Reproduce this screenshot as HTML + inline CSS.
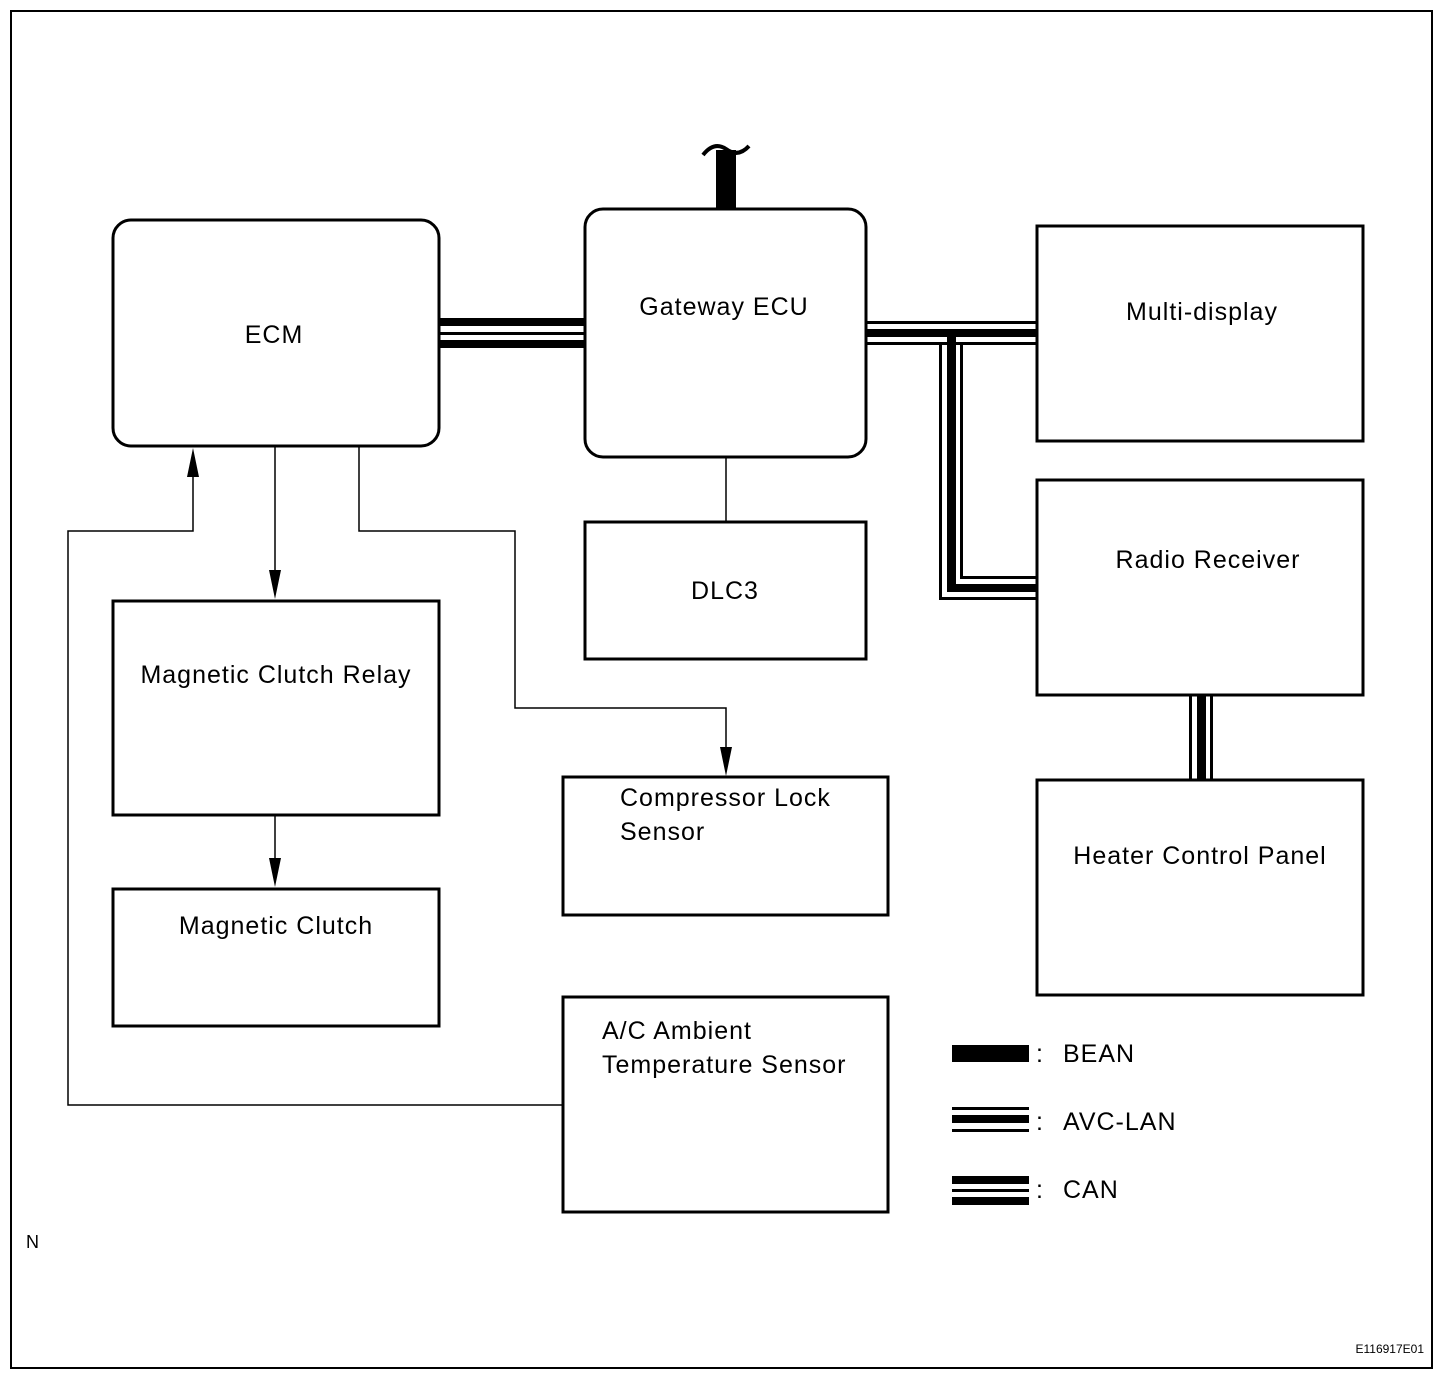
<!DOCTYPE html>
<html><head><meta charset="utf-8"><style>
html,body{margin:0;padding:0;background:#fff;}
svg{display:block;}
text{font-family:"Liberation Sans",Arial,sans-serif;font-size:25px;letter-spacing:1px;fill:#000;}
</style></head><body>
<svg width="1456" height="1386" viewBox="0 0 1456 1386" xmlns="http://www.w3.org/2000/svg">
<rect x="0" y="0" width="1456" height="1386" fill="#fff"/>
<rect x="11" y="11" width="1421" height="1357" fill="none" stroke="#000" stroke-width="2"/>

<!-- BEAN stub -->
<rect x="716" y="150" width="20" height="60" fill="#000"/>
<path d="M703 155 Q714 141 726 149 Q738 158 749 146" fill="none" stroke="#000" stroke-width="4"/>

<!-- ECM - Gateway CAN -->
<rect x="439" y="318" width="146" height="8" fill="#000"/>
<rect x="439" y="332" width="146" height="3" fill="#000"/>
<rect x="439" y="340" width="146" height="8" fill="#000"/>

<!-- Gateway - Multidisplay / Radio AVC-LAN -->
<rect x="866" y="321" width="171" height="3" fill="#000"/>
<rect x="866" y="329" width="171" height="8" fill="#000"/>
<rect x="866" y="342" width="171" height="3" fill="#000"/>
<polyline points="866,343.5 940.5,343.5 940.5,598.5 1037,598.5" fill="none" stroke="#000" stroke-width="3"/>
<rect x="947" y="333" width="9" height="259" fill="#000"/>
<rect x="947" y="584" width="90" height="8" fill="#000"/>
<polyline points="1037,343.5 961.5,343.5 961.5,577.5 1037,577.5" fill="none" stroke="#000" stroke-width="3"/>

<!-- Radio - Heater -->
<rect x="1189" y="695" width="3" height="85" fill="#000"/>
<rect x="1197" y="695" width="9" height="85" fill="#000"/>
<rect x="1210" y="695" width="3" height="85" fill="#000"/>

<!-- Boxes -->
<g fill="#fff" stroke="#000" stroke-width="3">
<rect x="113" y="220" width="326" height="226" rx="18"/>
<rect x="585" y="209" width="281" height="248" rx="18"/>
<rect x="1037" y="226" width="326" height="215"/>
<rect x="1037" y="480" width="326" height="215"/>
<rect x="1037" y="780" width="326" height="215"/>
<rect x="585" y="522" width="281" height="137"/>
<rect x="113" y="601" width="326" height="214"/>
<rect x="113" y="889" width="326" height="137"/>
<rect x="563" y="777" width="325" height="138"/>
<rect x="563" y="997" width="325" height="215"/>
</g>

<!-- thin connectors -->
<g fill="none" stroke="#000" stroke-width="1.5">
<line x1="726" y1="458" x2="726" y2="521"/>
<line x1="275" y1="447" x2="275" y2="575"/>
<line x1="275" y1="816" x2="275" y2="862"/>
<polyline points="359,447 359,531 515,531 515,708 726,708 726,750"/>
<polyline points="562,1105 68,1105 68,531 193,531 193,474"/>
</g>
<g fill="#000">
<polygon points="269,570 281,570 275,599"/>
<polygon points="269,858 281,858 275,887"/>
<polygon points="720,747 732,747 726,776"/>
<polygon points="187,477 199,477 193,448"/>
</g>

<!-- Labels -->
<text x="274" y="343" text-anchor="middle">ECM</text>
<text x="724" y="315" text-anchor="middle">Gateway ECU</text>
<text x="1202" y="320" text-anchor="middle">Multi-display</text>
<text x="1208" y="568" text-anchor="middle">Radio Receiver</text>
<text x="1200" y="864" text-anchor="middle">Heater Control Panel</text>
<text x="725" y="599" text-anchor="middle">DLC3</text>
<text x="276" y="683" text-anchor="middle">Magnetic Clutch Relay</text>
<text x="276" y="934" text-anchor="middle">Magnetic Clutch</text>
<text x="620" y="806">Compressor Lock</text>
<text x="620" y="840">Sensor</text>
<text x="602" y="1039">A/C Ambient</text>
<text x="602" y="1073">Temperature Sensor</text>

<!-- Legend -->
<rect x="952" y="1045" width="77" height="17" fill="#000"/>
<text x="1036" y="1062">:</text><text x="1063" y="1062">BEAN</text>
<rect x="952" y="1107" width="77" height="3" fill="#000"/>
<rect x="952" y="1115" width="77" height="8" fill="#000"/>
<rect x="952" y="1129" width="77" height="3" fill="#000"/>
<text x="1036" y="1130">:</text><text x="1063" y="1130">AVC-LAN</text>
<rect x="952" y="1176" width="77" height="8" fill="#000"/>
<rect x="952" y="1189" width="77" height="3" fill="#000"/>
<rect x="952" y="1197" width="77" height="8" fill="#000"/>
<text x="1036" y="1198">:</text><text x="1063" y="1198">CAN</text>

<text x="26" y="1248" style="font-size:18px;letter-spacing:0">N</text>
<text x="1424" y="1353" text-anchor="end" style="font-size:12px;letter-spacing:0">E116917E01</text>
</svg>
</body></html>
